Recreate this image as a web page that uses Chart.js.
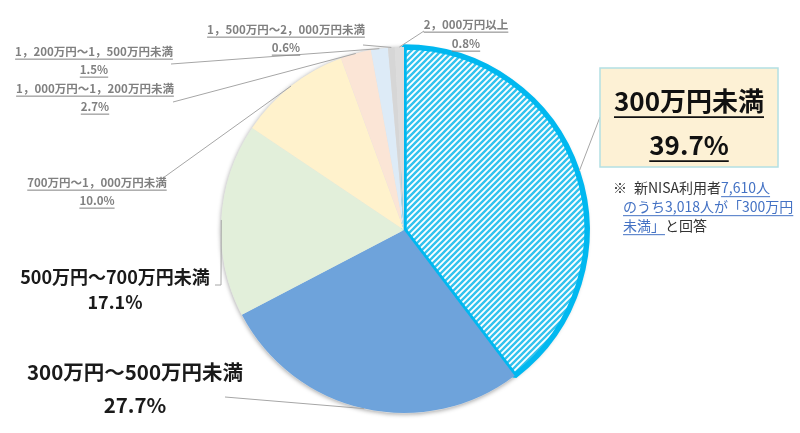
<!DOCTYPE html>
<html>
<head>
<meta charset="utf-8">
<script src="https://cdn.jsdelivr.net/npm/chart.js@4"></script>
<style>
  body { margin: 0; background: #fff; }
  #wrap { width: 800px; height: 433px; }
</style>
</head>
<body>
<div id="wrap"><canvas id="pieChart" width="800" height="433"></canvas></div>
<script>
// データ
const categories = [
  "300万円未満",
  "300万円～500万円未満",
  "500万円～700万円未満",
  "700万円～1，000万円未満",
  "1，000万円～1，200万円未満",
  "1，200万円～1，500万円未満",
  "1，500万円～2，000万円未満",
  "2，000万円以上",
];
const shares = [39.7, 27.7, 17.1, 10.0, 2.7, 1.5, 0.6, 0.8];
const noteParts = [
  { text: "※\u2002新NISA利用者", link: false },
  { text: "7,610人", link: true },
  { text: "\n" },
  { text: "のうち3,018人が「300万円", link: true },
  { text: "\n" },
  { text: "未満」", link: true },
  { text: "と回答", link: false },
];

const FONT = "'Noto Sans CJK JP', 'Noto Sans', sans-serif";
const sliceColors = ["#ffffff", "#6ea3db", "#e2efda", "#fff2cc", "#fbe5d6", "#ddebf7", "#d6d6d6", "#dcdcdc"];

// 斜線パターン
function makeHatch() {
  var c = document.createElement("canvas");
  c.width = 6;
  c.height = 6;
  var g = c.getContext("2d");
  g.fillStyle = "#ffffff";
  g.fillRect(0, 0, 6, 6);
  g.strokeStyle = "#33c3ee";
  g.lineWidth = 2.4;
  g.beginPath();
  g.moveTo(-1, 7); g.lineTo(7, -1);
  g.moveTo(-4, 4); g.lineTo(4, -4);
  g.moveTo(2, 10); g.lineTo(10, 2);
  g.stroke();
  return g.createPattern(c, "repeat");
}

// ラベル配置（位置のみ）
const labelLayout = [
  null,
  { x: 135, y1: 372, y2: 405, size: 20.5, color: "#1a1a1a", underline: false, leader: [[225, 397]] },
  { x: 115, y1: 277, y2: 302, size: 18, color: "#1a1a1a", underline: false, leader: [[215, 285], [221, 285]] },
  { x: 97, y1: 183, y2: 201, size: 11.5, color: "#808080", underline: true, leader: [[163, 178]] },
  { x: 95, y1: 89, y2: 107, size: 11.5, color: "#808080", underline: true, leader: [[173, 102]] },
  { x: 94, y1: 52, y2: 70, size: 11.5, color: "#808080", underline: true, leader: [[171, 64]] },
  { x: 286, y1: 30, y2: 48, size: 11.5, color: "#808080", underline: true, leader: [[363, 45]] },
  { x: 466, y1: 25, y2: 44, size: 11.5, color: "#808080", underline: true, leader: [[424, 31]] },
];
const box = { x: 600, y: 68, w: 178, h: 99, lineTop: 101, lineBottom: 145, size: 26, leader: [[600, 117]] };
const note = { x: 613, indent: 623, y: 188, lineH: 19, size: 14 };

function drawLine(ctx, text, x, y, size, color, bold, underline, align) {
  ctx.font = (bold ? "bold " : "") + size + "px " + FONT;
  ctx.fillStyle = color;
  ctx.textAlign = align || "center";
  ctx.textBaseline = "middle";
  ctx.fillText(text, x, y);
  if (underline) {
    var w = ctx.measureText(text).width;
    var x0 = ctx.textAlign === "center" ? x - w / 2 : x;
    ctx.strokeStyle = color;
    ctx.lineWidth = Math.max(1, size / 14);
    ctx.beginPath();
    ctx.moveTo(x0, y + size * 0.62);
    ctx.lineTo(x0 + w, y + size * 0.62);
    ctx.stroke();
  }
}

function arcPoint(arc, radius) {
  var p = arc.getProps(["x", "y", "startAngle", "endAngle", "outerRadius"], true);
  var mid = (p.startAngle + p.endAngle) / 2;
  var r = radius || p.outerRadius;
  return [p.x + Math.cos(mid) * r, p.y + Math.sin(mid) * r];
}

function drawLeader(ctx, pts, end) {
  ctx.strokeStyle = "#a6a6a6";
  ctx.lineWidth = 1;
  ctx.beginPath();
  ctx.moveTo(pts[0][0], pts[0][1]);
  for (var i = 1; i < pts.length; i++) ctx.lineTo(pts[i][0], pts[i][1]);
  ctx.lineTo(end[0], end[1]);
  ctx.stroke();
}

// 円の影
const pieShadow = {
  id: "pieShadow",
  beforeDatasetsDraw: function (chart) {
    var arc = chart.getDatasetMeta(0).data[0];
    var p = arc.getProps(["x", "y", "outerRadius"], true);
    var ctx = chart.ctx;
    ctx.save();
    ctx.shadowColor = "rgba(0,0,0,0.35)";
    ctx.shadowBlur = 4;
    ctx.shadowOffsetY = 1;
    ctx.fillStyle = "#e0e0e0";
    ctx.beginPath();
    ctx.arc(p.x, p.y, p.outerRadius + 0.5, 0, Math.PI * 2);
    ctx.fill();
    ctx.restore();
  },
};

// ラベル・引き出し線・注記
const pieLabels = {
  id: "pieLabels",
  afterDraw: function (chart) {
    var ctx = chart.ctx;
    var arcs = chart.getDatasetMeta(0).data;
    ctx.save();

    labelLayout.forEach(function (lay, i) {
      if (!lay) return;
      drawLeader(ctx, lay.leader, arcPoint(arcs[i]));
      drawLine(ctx, categories[i], lay.x, lay.y1, lay.size, lay.color, true, lay.underline);
      drawLine(ctx, shares[i].toFixed(1) + "%", lay.x, lay.y2, lay.size, lay.color, true, lay.underline);
    });

    // 300万円未満 の枠
    drawLeader(ctx, box.leader, arcPoint(arcs[0], arcs[0].outerRadius + 2));
    ctx.fillStyle = "#fdf1d5";
    ctx.fillRect(box.x, box.y, box.w, box.h);
    ctx.strokeStyle = "#b3dfe3";
    ctx.lineWidth = 1.5;
    ctx.strokeRect(box.x, box.y, box.w, box.h);
    var cx = box.x + box.w / 2;
    drawLine(ctx, categories[0], cx, box.lineTop, box.size, "#111", true, true);
    drawLine(ctx, shares[0].toFixed(1) + "%", cx, box.lineBottom, box.size, "#111", true, true);

    // 注記
    var line = 0;
    var x = note.x;
    noteParts.forEach(function (part) {
      if (part.text === "\n") {
        line++;
        x = note.indent;
        return;
      }
      var y = note.y + line * note.lineH;
      ctx.font = note.size + "px " + FONT;
      var w = ctx.measureText(part.text).width;
      drawLine(ctx, part.text, x, y, note.size, part.link ? "#4472c4" : "#333333", false, part.link, "left");
      x += w;
    });

    ctx.restore();
  },
};

var pieCanvas = document.getElementById("pieChart").getContext("2d");
var hatch = makeHatch();

new Chart(pieCanvas, {
  type: "pie",
  data: {
    labels: categories,
    datasets: [
      {
        data: shares,
        backgroundColor: sliceColors.map(function (c, i) { return i === 0 ? hatch : c; }),
        borderColor: sliceColors.map(function (c, i) { return i === 0 ? "#00b8f0" : c; }),
        borderWidth: shares.map(function (v, i) { return i === 0 ? 5.5 : 0; }),
      },
    ],
  },
  options: {
    responsive: false,
    animation: false,
    radius: 183,
    layout: { padding: { top: 47, bottom: 20, left: 100, right: 92 } },
    plugins: {
      legend: { display: false },
      tooltip: { enabled: false },
    },
  },
  plugins: [pieShadow, pieLabels],
});
</script>
</body>
</html>
